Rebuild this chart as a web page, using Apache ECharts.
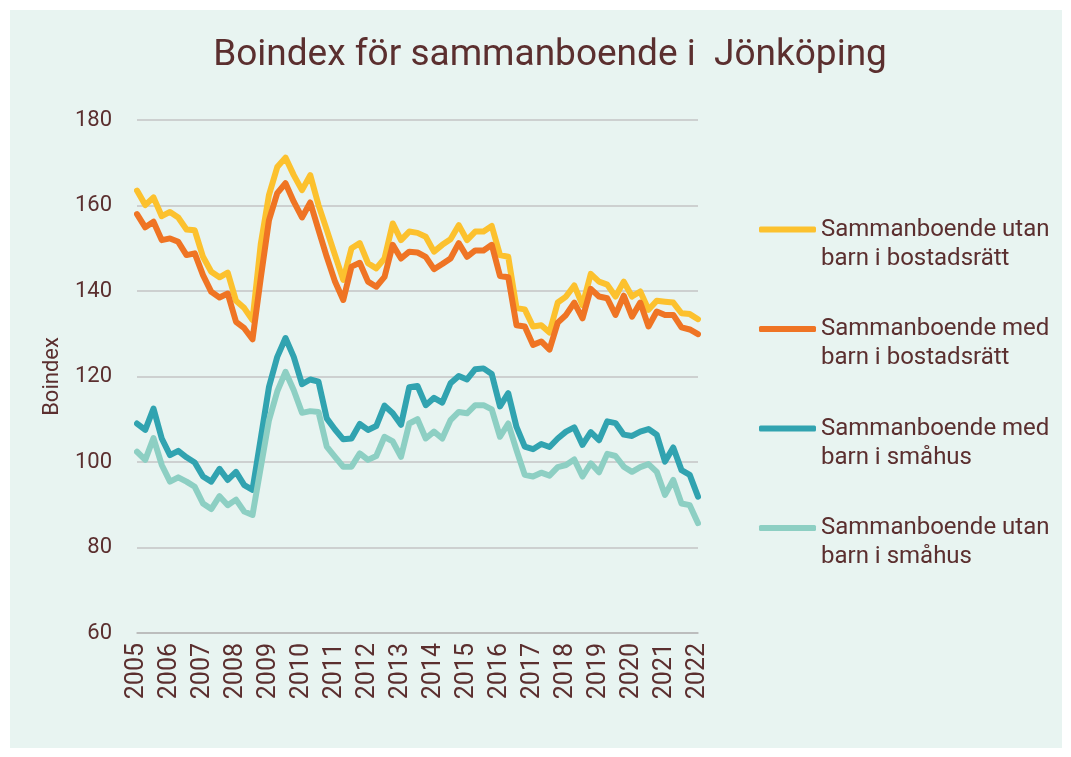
<!DOCTYPE html>
<html>
<head>
<meta charset="utf-8">
<script src="https://cdn.jsdelivr.net/npm/echarts@6/dist/echarts.min.js"></script>
<style>
  html, body { margin: 0; padding: 0; background: #ffffff; }
  #chart { width: 1071px; height: 757px; }
</style>
</head>
<body>
<div id="chart"></div>
<script>
// Quarterly index values, 2005 Q1 – 2022 Q1
const years = [2005, 2006, 2007, 2008, 2009, 2010, 2011, 2012, 2013, 2014, 2015, 2016, 2017, 2018, 2019, 2020, 2021, 2022];
const quarters = [];
years.forEach(y => {
  for (let q = 1; q <= 4; q++) {
    if (y === 2022 && q > 1) break;
    quarters.push(y + ' K' + q);
  }
});

const seriesNames = [
  'Sammanboende utan\nbarn i bostadsrätt',
  'Sammanboende med\nbarn i bostadsrätt',
  'Sammanboende med\nbarn i småhus',
  'Sammanboende utan\nbarn i småhus'
];

const utanBarnBostadsratt = [
  163.5, 160.1, 161.9, 157.5, 158.5, 157.2, 154.4, 154.2, 148.0, 144.5, 143.2, 144.3,
  137.7, 136.0, 133.2, 151.0, 162.5, 169.0, 171.2, 167.1, 163.6, 167.1, 160.1, 154.3,
  148.4, 142.6, 150.0, 151.2, 146.5, 145.3, 147.6, 155.8, 151.9, 153.9, 153.6, 152.7,
  149.2, 150.8, 152.1, 155.4, 151.9, 153.9, 153.9, 155.2, 148.4, 148.0, 136.0, 135.7,
  131.7, 132.0, 130.3, 137.3, 138.7, 141.3, 136.7, 144.0, 142.2, 141.5, 138.7, 142.2,
  138.7, 139.9, 135.6, 137.7, 137.5, 137.3, 134.8, 134.6, 133.4
];

const medBarnBostadsratt = [
  158.0, 154.9, 156.2, 151.9, 152.3, 151.5, 148.4, 148.8, 143.7, 139.8, 138.5, 139.4,
  132.8, 131.3, 128.7, 143.0, 156.6, 162.9, 165.2, 160.9, 157.2, 160.7, 154.3, 148.0,
  142.2, 137.9, 145.7, 146.6, 142.2, 141.0, 143.3, 150.8, 147.6, 149.2, 149.0, 148.0,
  145.1, 146.3, 147.6, 151.2, 148.0, 149.5, 149.5, 150.8, 143.5, 143.2, 132.0, 131.7,
  127.4, 128.2, 126.3, 132.6, 134.4, 137.3, 133.6, 140.5, 138.7, 138.3, 134.4, 138.9,
  134.0, 137.3, 131.7, 135.2, 134.4, 134.4, 131.5, 131.0, 129.9
];

const medBarnSmahus = [
  109.0, 107.5, 112.5, 105.5, 101.6, 102.6, 101.1, 99.9, 96.6, 95.4, 98.4, 95.8,
  97.7, 94.6, 93.5, 105.5, 117.6, 124.6, 129.0, 124.6, 118.2, 119.3, 118.8, 110.2,
  107.6, 105.3, 105.5, 108.9, 107.5, 108.4, 113.2, 111.4, 108.7, 117.5, 117.8, 113.3,
  115.0, 113.9, 118.4, 120.1, 119.3, 121.7, 121.9, 120.6, 113.0, 116.1, 108.2, 103.6,
  103.0, 104.2, 103.5, 105.5, 107.1, 108.1, 104.0, 107.0, 105.1, 109.5, 109.1, 106.4,
  106.1, 107.1, 107.7, 106.4, 100.1, 103.4, 98.1, 97.0, 91.9
];

const utanBarnSmahus = [
  102.4, 100.5, 105.6, 99.3, 95.4, 96.4, 95.4, 94.2, 90.3, 89.0, 92.0, 89.9,
  91.2, 88.4, 87.6, 98.7, 109.8, 116.5, 121.1, 116.8, 111.5, 111.9, 111.7, 103.6,
  101.2, 98.9, 98.9, 102.0, 100.5, 101.4, 105.9, 104.8, 101.2, 109.0, 110.0, 105.5,
  107.1, 105.5, 109.8, 111.7, 111.4, 113.3, 113.3, 112.3, 105.9, 109.0, 102.8, 97.0,
  96.6, 97.5, 96.8, 98.8, 99.3, 100.6, 96.6, 99.7, 97.6, 101.9, 101.4, 98.9,
  97.7, 98.8, 99.5, 97.7, 92.3, 95.8, 90.3, 89.9, 85.7
];

const seriesData = [utanBarnBostadsratt, medBarnBostadsratt, medBarnSmahus, utanBarnSmahus];
const seriesColors = ['#fcc12e', '#ef7424', '#31a3b0', '#8dcfc3'];

const textColor = '#5b2f2f';
const fontFamily = 'Roboto, "Noto Sans", sans-serif';

const chart = echarts.init(document.getElementById('chart'), null, { renderer: 'canvas' });

chart.setOption({
  backgroundColor: '#ffffff',
  animation: false,
  textStyle: { fontFamily: fontFamily, color: textColor },
  graphic: [{
    type: 'rect',
    z: -10,
    silent: true,
    shape: { x: 10, y: 10, width: 1052, height: 738 },
    style: { fill: '#e8f4f1' }
  }],
  title: {
    text: 'Boindex för sammanboende i  Jönköping',
    left: 545,
    top: 32,
    textAlign: 'center',
    textStyle: { fontFamily: fontFamily, fontSize: 37, fontWeight: 'normal', color: textColor }
  },
  legend: {
    orient: 'vertical',
    left: 759,
    top: 186,
    padding: 0,
    itemWidth: 57,
    itemHeight: 6,
    itemGap: 12.5,
    icon: 'roundRect',
    selectedMode: false,
    data: seriesNames,
    // a blank first line keeps the swatch level with the first text line
    formatter: name => '\n' + name,
    textStyle: {
      fontFamily: fontFamily,
      fontSize: 24,
      color: textColor,
      lineHeight: 29
    }
  },
  grid: { left: 137, right: 373, top: 120, bottom: 124, containLabel: false },
  xAxis: {
    type: 'category',
    boundaryGap: false,
    data: quarters,
    axisLine: { show: true, lineStyle: { color: '#b7b7b7', width: 1.5 } },
    axisTick: { show: false },
    axisLabel: {
      interval: 3,
      rotate: 90,
      margin: 10,
      fontFamily: fontFamily,
      fontSize: 25,
      color: textColor,
      formatter: v => v.slice(0, 4)
    },
    splitLine: { show: false }
  },
  yAxis: {
    type: 'value',
    min: 60,
    max: 180,
    interval: 20,
    name: 'Boindex',
    nameLocation: 'middle',
    nameGap: 74,
    nameRotate: 90,
    nameTextStyle: { fontFamily: fontFamily, fontSize: 22, color: textColor },
    axisLine: { show: false },
    axisTick: { show: false },
    axisLabel: { margin: 25, fontFamily: fontFamily, fontSize: 22, color: textColor },
    splitLine: { lineStyle: { color: '#c4c4c4', width: 1.5 } }
  },
  series: seriesNames.map((name, i) => ({
    name: name,
    type: 'line',
    data: seriesData[i],
    symbol: 'none',
    smooth: false,
    color: seriesColors[i],
    lineStyle: { width: 6, color: seriesColors[i], cap: 'round', join: 'round' }
  }))
});
</script>
</body>
</html>
